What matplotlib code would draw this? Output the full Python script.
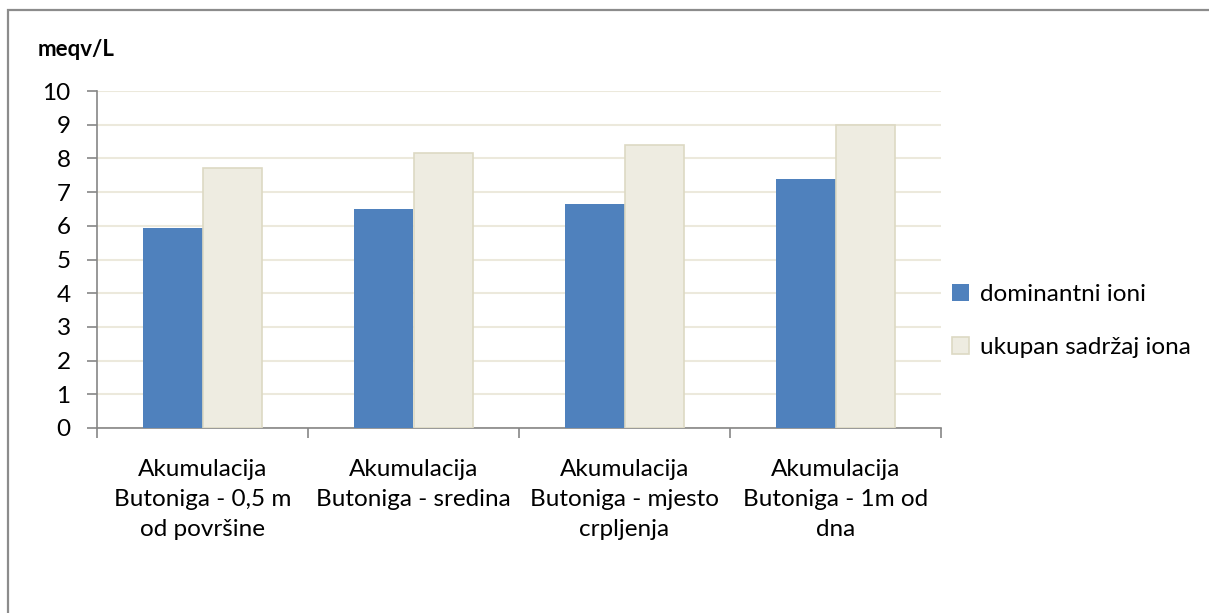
import matplotlib
matplotlib.use("Agg")
import matplotlib.pyplot as plt
from matplotlib.patches import Rectangle
import numpy as np

plt.rcParams['font.family'] = ['Lato', 'DejaVu Sans']

categories = [
    "Akumulacija\nButoniga - 0,5 m\nod površine",
    "Akumulacija\nButoniga - sredina",
    "Akumulacija\nButoniga - mjesto\ncrpljenja",
    "Akumulacija\nButoniga - 1m od\ndna",
]
dominantni = [5.93, 6.5, 6.65, 7.39]
ukupan = [7.72, 8.16, 8.39, 9.0]
series_names = ["dominantni ioni", "ukupan sadržaj iona"]

W, H = 1209, 613
fig = plt.figure(figsize=(W / 100, H / 100), dpi=100)
ax = fig.add_axes([97 / W, 1 - 428 / H, (941 - 97) / W, (428 - 91) / H])

# outer chart frame
fig.patches.append(Rectangle((8 / W, -0.1), 1.2, 1.1 - 10 / H, transform=fig.transFigure,
                             fill=False, edgecolor="#8c8c8c", linewidth=1.6))

x = np.arange(len(categories))
w = 0.28
ax.bar(x - w / 2, dominantni, w, color="#4F81BD", label=series_names[0], zorder=3)
ax.bar(x + w / 2, ukupan, w, color="#EEECE1", edgecolor="#DDD9C3", linewidth=1.2,
       label=series_names[1], zorder=3)

ax.set_xlim(-0.5, len(categories) - 0.5)
ax.set_ylim(0, 10)
ax.set_yticks(range(0, 11))
ax.yaxis.grid(True, color="#ECE9DC", linewidth=1.5, zorder=0)
ax.set_axisbelow(True)

ax.set_xticks(np.arange(len(categories) + 1) - 0.5)
ax.set_xticklabels([])
ax.set_xticks(x, minor=True)
ax.set_xticklabels(categories, minor=True, fontsize=17.5, linespacing=1.55)
ax.tick_params(axis="x", which="minor", length=0, pad=22)
ax.tick_params(axis="x", which="major", length=7, color="#868686", width=1.2)
ax.tick_params(axis="y", length=7, color="#868686", width=1.2, labelsize=17.5, pad=12)

for s in ["top", "right"]:
    ax.spines[s].set_visible(False)
for s in ["left", "bottom"]:
    ax.spines[s].set_color("#868686")
    ax.spines[s].set_linewidth(1.2)

fig.text(38 / W, 1 - 50 / H, "meqv/L", fontsize=16, fontweight="bold", va="center")

ax.legend(loc="center left", bbox_to_anchor=(0.987, 0.318), frameon=False, fontsize=17.5,
          handlelength=0.7, handleheight=0.7, handletextpad=0.45, labelspacing=1.3)

fig.savefig("out.png", dpi=100)
